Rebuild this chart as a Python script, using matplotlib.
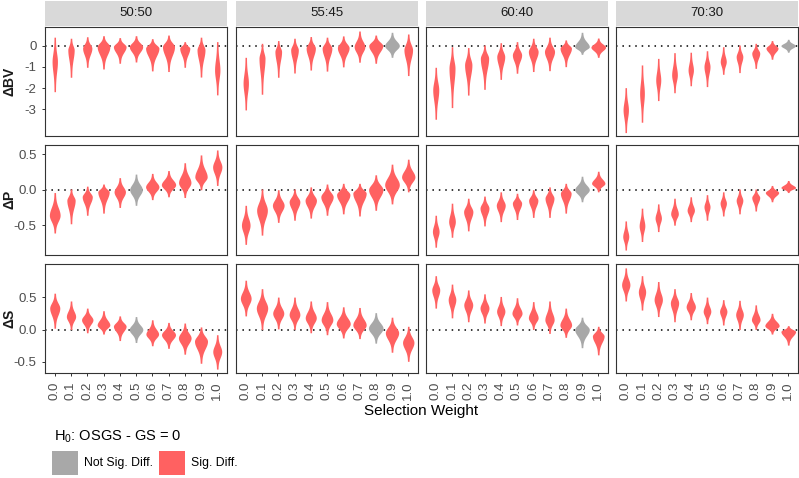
import numpy as np
import matplotlib
matplotlib.use("Agg")
import matplotlib.pyplot as plt
from matplotlib.patches import Rectangle

plt.rcParams['font.family'] = ['Liberation Sans', 'DejaVu Sans']
plt.rcParams['mathtext.fontset'] = 'custom'
plt.rcParams['mathtext.rm'] = 'Liberation Sans'
plt.rcParams['mathtext.default'] = 'regular'

ratios = ["50:50", "55:45", "60:40", "70:30"]
weights = ["0.0", "0.1", "0.2", "0.3", "0.4", "0.5", "0.6", "0.7", "0.8", "0.9", "1.0"]
metrics = ["ΔBV", "ΔP", "ΔS"]

# violin summaries: min, widest point, max, width
bv_lo = [[-2.17, -1.49, -1.02, -1.10, -0.83, -0.77, -1.19, -1.22, -1.02, -1.48, -2.32],
         [-3.03, -2.29, -1.49, -1.29, -1.15, -1.20, -1.00, -0.78, -0.83, -0.55, -1.41],
         [-3.47, -2.92, -2.33, -2.06, -1.59, -1.30, -1.22, -1.18, -0.99, -0.41, -0.55],
         [-4.10, -3.61, -2.59, -2.22, -1.89, -1.93, -1.35, -1.27, -1.07, -0.64, -0.31]]
bv_pk = [[-0.75, -0.20, -0.12, -0.05, -0.05, -0.05, -0.12, -0.05, -0.12, -0.20, -1.15],
         [-1.77, -0.60, -0.28, -0.20, -0.12, -0.12, -0.10, -0.05, 0.00, 0.00, -0.20],
         [-2.09, -1.07, -0.91, -0.60, -0.52, -0.44, -0.28, -0.28, -0.12, -0.05, -0.07],
         [-3.03, -2.25, -1.62, -1.38, -1.15, -0.99, -0.75, -0.52, -0.36, -0.12, 0.00]]
bv_hi = [[0.40, 0.35, 0.42, 0.47, 0.38, 0.47, 0.33, 0.50, 0.19, 0.40, 0.19],
         [-0.55, 0.11, 0.24, 0.35, 0.43, 0.40, 0.46, 0.69, 0.50, 0.63, 0.55],
         [-1.02, -0.05, -0.09, 0.03, 0.14, 0.19, 0.35, 0.40, 0.27, 0.63, 0.36],
         [-1.98, -0.91, -0.60, -0.33, -0.31, -0.24, -0.05, 0.03, 0.11, 0.24, 0.30]]
bv_wd = [[0.33, 0.39, 0.57, 0.78, 0.78, 0.82, 0.82, 0.74, 0.62, 0.49, 0.33],
         [0.33, 0.37, 0.41, 0.47, 0.57, 0.60, 0.72, 0.66, 0.86, 0.90, 0.53],
         [0.37, 0.37, 0.45, 0.51, 0.49, 0.57, 0.60, 0.62, 0.70, 0.90, 0.90],
         [0.33, 0.29, 0.31, 0.35, 0.33, 0.37, 0.37, 0.41, 0.49, 0.74, 0.90]]

p_lo = [[-0.61, -0.48, -0.36, -0.33, -0.25, -0.22, -0.14, -0.10, -0.11, 0.00, 0.06],
        [-0.77, -0.64, -0.46, -0.43, -0.40, -0.36, -0.34, -0.37, -0.29, -0.20, -0.03],
        [-0.81, -0.67, -0.58, -0.51, -0.45, -0.42, -0.39, -0.39, -0.33, -0.17, -0.03],
        [-0.85, -0.73, -0.59, -0.50, -0.45, -0.43, -0.37, -0.34, -0.30, -0.17, -0.04]]
p_pk = [[-0.36, -0.15, -0.10, -0.03, -0.03, 0.00, 0.04, 0.07, 0.10, 0.18, 0.32],
        [-0.50, -0.29, -0.22, -0.17, -0.15, -0.10, -0.07, -0.05, 0.00, 0.07, 0.18],
        [-0.59, -0.45, -0.31, -0.26, -0.22, -0.19, -0.15, -0.12, -0.05, 0.00, 0.09],
        [-0.66, -0.51, -0.40, -0.34, -0.29, -0.24, -0.19, -0.15, -0.11, -0.04, 0.03]]
p_hi = [[-0.04, 0.01, 0.05, 0.08, 0.17, 0.22, 0.23, 0.27, 0.38, 0.49, 0.56],
        [-0.22, 0.01, 0.00, 0.01, 0.04, 0.08, 0.09, 0.09, 0.21, 0.36, 0.43],
        [-0.36, -0.19, -0.12, -0.09, -0.03, -0.05, 0.00, 0.04, 0.09, 0.19, 0.26],
        [-0.44, -0.26, -0.20, -0.12, -0.10, -0.07, -0.03, 0.01, 0.01, 0.06, 0.13]]
p_wd = [[0.66, 0.51, 0.62, 0.70, 0.70, 0.78, 0.82, 0.88, 0.76, 0.76, 0.57],
        [0.53, 0.66, 0.72, 0.66, 0.70, 0.76, 0.82, 0.82, 0.88, 0.90, 0.82],
        [0.41, 0.41, 0.57, 0.55, 0.55, 0.57, 0.57, 0.55, 0.66, 0.90, 0.82],
        [0.37, 0.35, 0.39, 0.47, 0.45, 0.37, 0.39, 0.41, 0.49, 0.82, 0.90]]

s_lo = [[0.02, 0.00, -0.05, -0.07, -0.17, -0.20, -0.25, -0.29, -0.38, -0.52, -0.61],
        [0.21, 0.00, 0.01, 0.00, -0.05, -0.08, -0.13, -0.14, -0.21, -0.35, -0.49],
        [0.33, 0.18, 0.12, 0.10, 0.06, 0.07, 0.00, -0.06, -0.12, -0.28, -0.39],
        [0.44, 0.30, 0.20, 0.12, 0.15, 0.09, 0.07, 0.00, 0.00, -0.07, -0.24]]
s_pk = [[0.33, 0.20, 0.15, 0.07, 0.05, 0.00, -0.07, -0.08, -0.13, -0.18, -0.34],
        [0.48, 0.33, 0.25, 0.23, 0.18, 0.15, 0.09, 0.07, 0.02, -0.05, -0.20],
        [0.61, 0.46, 0.38, 0.33, 0.28, 0.25, 0.18, 0.15, 0.07, 0.00, -0.10],
        [0.69, 0.58, 0.46, 0.41, 0.35, 0.28, 0.28, 0.23, 0.15, 0.06, -0.03]]
s_hi = [[0.56, 0.44, 0.33, 0.29, 0.21, 0.20, 0.15, 0.11, 0.10, 0.04, -0.08],
        [0.76, 0.63, 0.50, 0.50, 0.44, 0.43, 0.35, 0.34, 0.26, 0.19, 0.05],
        [0.83, 0.70, 0.61, 0.55, 0.51, 0.49, 0.43, 0.44, 0.33, 0.19, 0.05],
        [0.95, 0.83, 0.74, 0.63, 0.57, 0.50, 0.46, 0.45, 0.38, 0.25, 0.06]]
s_wd = [[0.62, 0.57, 0.70, 0.78, 0.78, 0.84, 0.78, 0.86, 0.78, 0.80, 0.55],
        [0.66, 0.70, 0.68, 0.66, 0.68, 0.72, 0.86, 0.82, 0.90, 0.82, 0.70],
        [0.49, 0.47, 0.55, 0.55, 0.51, 0.62, 0.60, 0.57, 0.72, 0.90, 0.72],
        [0.51, 0.45, 0.51, 0.51, 0.57, 0.47, 0.45, 0.47, 0.53, 0.88, 0.90]]

# 1 = significant difference, 0 = not
bv_sig = [[1] * 11, [1] * 9 + [0, 1], [1] * 9 + [0, 1], [1] * 10 + [0]]
p_sig = [[1] * 5 + [0] + [1] * 5, [1] * 11, [1] * 9 + [0, 1], [1] * 11]
s_sig = [[1] * 5 + [0] + [1] * 5, [1] * 8 + [0, 1, 1], [1] * 9 + [0, 1], [1] * 11]

rows = [(bv_lo, bv_pk, bv_hi, bv_wd, bv_sig, (-4.26, 0.88), [0, -1, -2, -3], ["0", "-1", "-2", "-3"]),
        (p_lo, p_pk, p_hi, p_wd, p_sig, (-0.92, 0.63), [-0.5, 0, 0.5], ["-0.5", "0.0", "0.5"]),
        (s_lo, s_pk, s_hi, s_wd, s_sig, (-0.67, 1.01), [-0.5, 0, 0.5], ["-0.5", "0.0", "0.5"])]

RED = "#FF6161"
GREY = "#A8A8A8"
W, H = 799, 478


def box(x0, y0, w, h):
    return [x0 / W, 1 - (y0 + h) / H, w / W, h / H]


def violin(ax, x, lo, pk, hi, wd, color):
    y = np.linspace(lo, hi, 300)
    sl = max(pk - lo, 1e-3) / 3.0
    sh = max(hi - pk, 1e-3) / 3.0
    z = np.where(y < pk, (y - pk) / sl, (y - pk) / sh)
    half = 0.045 + (wd / 2 - 0.045) * np.exp(-0.5 * z ** 2)
    ax.fill_betweenx(y, x - half, x + half, color=color, lw=0, zorder=2)


fig = plt.figure(figsize=(W / 100, H / 100), dpi=100)
col_x = [45, 236, 426, 616]
row_y = [27, 145, 264]
pw, ph = 182, 109
xs = np.arange(len(weights))

for r, (lo, pk, hi, wd, sig, ylim, yt, ytl) in enumerate(rows):
    for c in range(4):
        ax = fig.add_axes(box(col_x[c], row_y[r], pw, ph if r != 1 else 110))
        ax.axhline(0, color="black", lw=1.1, ls=(0, (1, 3.2)), zorder=1)
        for i in xs:
            violin(ax, i, lo[c][i], pk[c][i], hi[c][i], wd[c][i], RED if sig[c][i] else GREY)
        ax.set_xlim(-0.6, 10.6)
        ax.set_ylim(*ylim)
        for sp in ax.spines.values():
            sp.set_color("#333333")
            sp.set_linewidth(0.8)
        ax.tick_params(colors="#333333", length=2.5, width=0.7, labelcolor="#4D4D4D", labelsize=9.5)
        ax.set_xticks(xs)
        if r == 2:
            ax.set_xticklabels(weights, rotation=90)
        else:
            ax.tick_params(axis="x", length=0, labelbottom=False)
        if c == 0:
            ax.set_yticks(yt)
            ax.set_yticklabels(ytl)
        else:
            ax.set_yticks([])
    fig.text(10 / W, 1 - (row_y[r] + ph / 2) / H, metrics[r], rotation=90, fontsize=10,
             fontweight="bold", color="#1A1A1A", ha="center", va="center")

# strips
for c in range(4):
    fig.patches.append(Rectangle((col_x[c] / W, 1 - 26 / H), pw / W, 25 / H,
                                 transform=fig.transFigure, facecolor="#D9D9D9", edgecolor="none"))
    fig.text((col_x[c] + pw / 2) / W, 1 - 13.5 / H, ratios[c], fontsize=9.5, color="#1A1A1A",
             ha="center", va="center")

fig.text(421 / W, 1 - 411 / H, "Selection Weight", fontsize=11, color="black", ha="center", va="center")

# legend
fig.text(54 / W, 1 - 437 / H, r"H$_0$: OSGS - GS = 0", fontsize=10.5, ha="left", va="center")
fig.patches.append(Rectangle((52 / W, 1 - 475 / H), 26 / W, 24 / H, transform=fig.transFigure,
                             facecolor=GREY, edgecolor="none"))
fig.text(84 / W, 1 - 463 / H, "Not Sig. Diff.", fontsize=8.8, ha="left", va="center")
fig.patches.append(Rectangle((159 / W, 1 - 475 / H), 26 / W, 24 / H, transform=fig.transFigure,
                             facecolor=RED, edgecolor="none"))
fig.text(191 / W, 1 - 463 / H, "Sig. Diff.", fontsize=8.8, ha="left", va="center")

fig.savefig("out.png", dpi=100)
